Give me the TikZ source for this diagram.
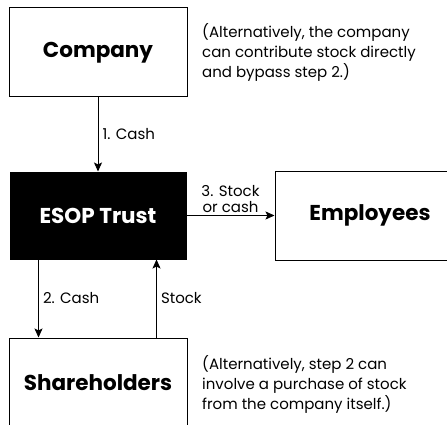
\documentclass[tikz,border=0pt]{standalone}
\usepackage{fontspec}
\setmainfont{Poppins}
\usepackage{tikz}
\usetikzlibrary{arrows.meta}

\begin{document}
\begin{tikzpicture}[x=1pt, y=1pt,
  box/.style = {shape=rectangle, draw, line width=1pt,
    minimum width=178pt, minimum height=89pt,
    font=\fontsize{21.5}{26}\selectfont\bfseries},
  note/.style = {anchor=west, align=left, inner sep=0pt,
    font=\fontsize{15}{20}\selectfont},
  lbl/.style = {font=\fontsize{15}{16}\selectfont, inner sep=4pt},
  flow/.style = {-{Stealth[length=9pt,width=8pt,inset=2pt]}, line width=1pt}]
  \fill[white] (0,0) rectangle (447,424);
  \clip (0,0) rectangle (447,424);
  \node[box] (company) at (98,371.5) {Company};
  \node[box, fill=black, text=white, minimum width=176pt, minimum height=87pt]
    (esop) at (98,208.5) {ESOP Trust};
  \node[box, minimum width=190pt] (employees) at (370,208.5) {Employees};
  \node[box] (holders) at (98,41.5) {Shareholders};
  \node[note] (topnote) at (202,371.5) {(Alternatively, the company\\can contribute stock directly\\and bypass step 2.)};
  \node[note] (botnote) at (202,40) {(Alternatively, step 2 can\\involve a purchase of stock\\from the company itself.)};
  \draw[flow] (company) -- node[lbl, right] {1. Cash} (esop);
  \draw[flow] (esop) -- node[lbl, above, align=center, inner sep=2pt] {3. Stock\\or cash} (employees);
  \draw[flow] ([xshift=29pt]esop.south west) -- node[lbl, right] {2. Cash}
    ([xshift=30pt]holders.north west);
  \draw[flow] ([xshift=148pt]holders.north west) -- node[lbl, right] {Stock}
    ([xshift=147pt]esop.south west);
\end{tikzpicture}
\end{document}
